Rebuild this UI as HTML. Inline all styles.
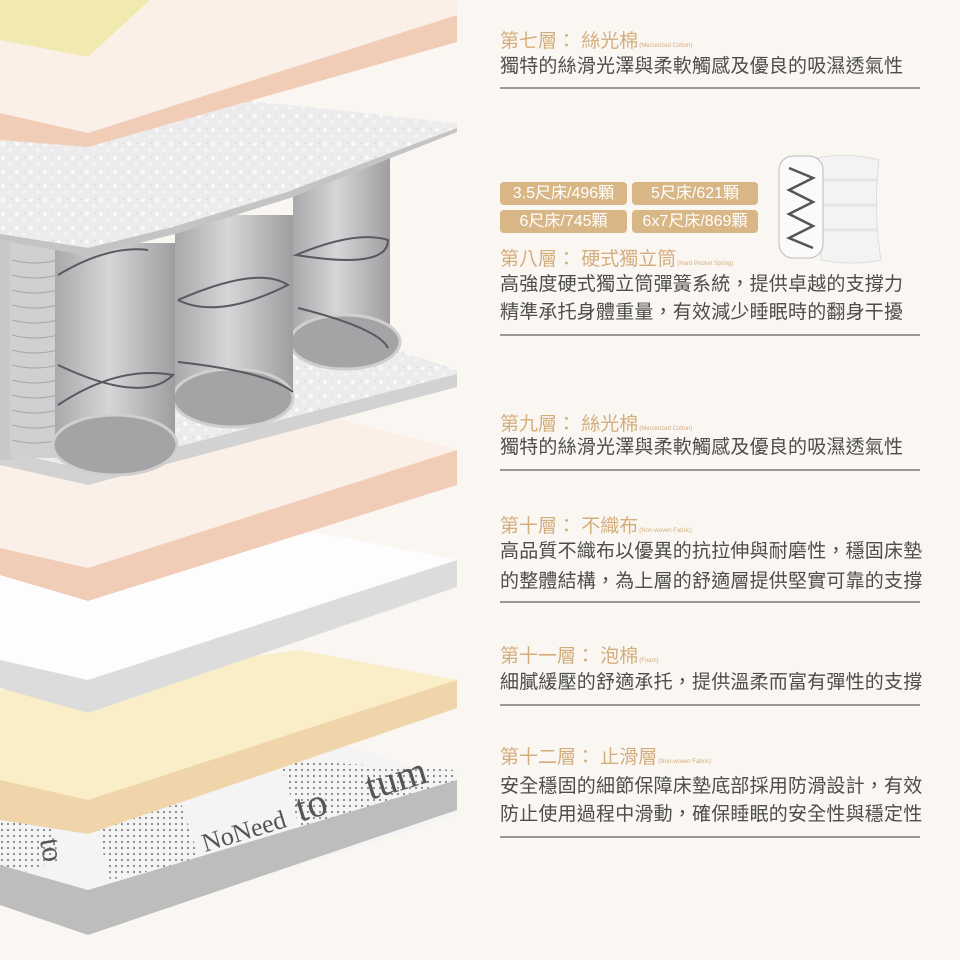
<!DOCTYPE html>
<html><head><meta charset="utf-8">
<style>
html,body{margin:0;padding:0}
body{width:960px;height:960px;background:#faf7f2;position:relative;overflow:hidden;font-family:"Liberation Sans","Noto Sans CJK TC",sans-serif}
.t{position:absolute;left:500px;color:#d4ad7d;font-size:19px;line-height:22px;white-space:nowrap}
.t small{font-size:6px;color:#d4ad7d;margin-left:1px}
.b{position:absolute;left:500px;color:#4d4d4d;font-size:19px;line-height:28px;white-space:nowrap;letter-spacing:0.2px}
.r{position:absolute;left:500px;width:420px;height:2px;background:#9a9794}
.bd{position:absolute;height:23px;background:#d8b685;color:#fff;border-radius:4px;font-size:16px;line-height:23px;text-align:center}
svg{position:absolute;left:0;top:0}
</style></head><body>
<svg width="960" height="960" viewBox="0 0 960 960">
<defs>
<linearGradient id="cyl" x1="0" x2="1" y1="0" y2="0">
<stop offset="0" stop-color="#a9a9ab"/><stop offset="0.45" stop-color="#d6d6d8"/><stop offset="1" stop-color="#9e9ea0"/>
</linearGradient>
<pattern id="dots" width="6" height="6" patternUnits="userSpaceOnUse">
<rect width="6" height="6" fill="#f4f4f4"/><circle cx="2" cy="2" r="1.1" fill="#888"/>
</pattern>
<pattern id="fib" width="14" height="14" patternUnits="userSpaceOnUse">
<rect width="14" height="14" fill="#ececec"/><circle cx="3" cy="4" r="2" fill="#fafafa"/><circle cx="10" cy="10" r="1.5" fill="#f8f8f8"/><circle cx="11" cy="3" r="1" fill="#dcdcdc"/>
</pattern>
</defs>
<!-- bottom fabric layer 12 -->
<polygon points="0,760 200,700 457,780 457,815 88,932 0,905" fill="#f4f4f4"/>
<polygon points="0,800 40,790 60,860 0,880" fill="url(#dots)"/>
<polygon points="95,820 180,800 200,860 110,880" fill="url(#dots)"/>
<polygon points="280,760 457,770 457,790 300,830" fill="url(#dots)"/>
<polygon points="0,865 88,890 457,780 457,810 88,935 0,905" fill="#bdbdbd"/>
<text x="205" y="852" font-family="Liberation Serif,serif" font-size="26" fill="#555" transform="rotate(-17 205 852)">NoNeed</text>
<text x="300" y="822" font-family="Liberation Serif,serif" font-size="40" fill="#555" transform="rotate(-17 300 822)">to</text>
<text x="370" y="800" font-family="Liberation Serif,serif" font-size="40" fill="#555" transform="rotate(-17 370 800)">tum</text>
<text x="40" y="840" font-family="Liberation Serif,serif" font-size="30" fill="#555" transform="rotate(80 40 840)">to</text>
<!-- yellow foam layer 11 -->
<polygon points="0,690 300,650 457,680 457,705 88,830 0,820" fill="#faeec8"/>
<polygon points="0,780 88,800 457,680 457,708 88,834 0,820" fill="#f0d4aa"/>
<!-- white layer 10 -->
<polygon points="0,560 320,533 457,560 457,587 88,713 0,687" fill="#fdfdfd"/>
<polygon points="0,660 88,680 457,560 457,587 88,713 0,688" fill="#dcdcdc"/>
<!-- pink layer 9 -->
<polygon points="0,420 250,395 457,450 457,485 88,601 0,575" fill="#fbf0e8"/>
<polygon points="0,548 88,568 457,450 457,485 88,601 0,575" fill="#f1cdb8"/>
<!-- base fiber -->
<polygon points="0,400 390,352 457,370 457,387 88,485 0,465" fill="#d2d2d2"/>
<polygon points="0,392 390,348 457,370 457,374 88,470 0,450" fill="url(#fib)"/>
<!-- cylinders -->
<rect x="0" y="230" width="14" height="230" fill="#c8c8ca"/>
<rect x="10" y="240" width="48" height="218" fill="#d0d0d2"/>
<g stroke="#a8a8a8" stroke-width="1" fill="none">
<path d="M12,260 q22,6 46,0 M12,275 q22,6 46,0 M12,290 q22,6 46,0 M12,305 q22,6 46,0 M12,320 q22,6 46,0 M12,335 q22,6 46,0 M12,350 q22,6 46,0 M12,365 q22,6 46,0 M12,380 q22,6 46,0 M12,395 q22,6 46,0 M12,410 q22,6 46,0 M12,425 q22,6 46,0 M12,440 q22,6 46,0"/>
</g>
<rect x="293" y="150" width="97" height="190" fill="url(#cyl)"/>
<ellipse cx="345" cy="342" rx="55" ry="27" fill="#a4a3a6" stroke="#cfcfcf" stroke-width="3"/>
<rect x="175" y="215" width="118" height="182" fill="url(#cyl)"/>
<ellipse cx="233" cy="398" rx="60" ry="29" fill="#a4a3a6" stroke="#cfcfcf" stroke-width="3"/>
<rect x="55" y="243" width="120" height="200" fill="url(#cyl)"/>
<ellipse cx="115" cy="445" rx="62" ry="30" fill="#a4a3a6" stroke="#cfcfcf" stroke-width="3"/>
<g stroke="#5a5a5e" stroke-width="2" fill="none">
<path d="M296,255 q60,-25 92,-15 q0,30 -92,15 z"/>
<path d="M178,300 q40,20 110,-15 q-30,-20 -110,15"/>
<path d="M58,405 q60,-40 115,-30 q-30,30 -115,-10"/>
<path d="M58,275 q50,-30 90,-25"/>
<path d="M298,308 q80,20 90,40"/>
<path d="M178,362 q90,10 115,30"/>
</g>
<!-- top fiber layer 8 -->
<polygon points="0,140 215,97 457,123 457,128 287,192 173,227 88,248 0,234" fill="url(#fib)"/>
<polygon points="0,234 88,248 173,227 287,192 457,128 457,132 290,198 175,234 88,256 0,240" fill="#c4c4c4"/>
<!-- pink layer 7 -->
<polygon points="0,0 457,0 457,40 88,135 0,115" fill="#fbf0e8"/>
<polygon points="0,113 88,133 457,15 457,42 88,147 0,140" fill="#f1cdb8"/>
<!-- yellow top -->
<polygon points="0,0 150,0 88,57 0,40" fill="#f0eab0"/>
</svg>

<div class="t" style="top:31px">第七層： 絲光棉<small>(Mercerized Cotton)</small></div>
<div class="b" style="top:53px">獨特的絲滑光澤與柔軟觸感及優良的吸濕透氣性</div>
<div class="r" style="top:87px"></div>

<div class="bd" style="left:500px;top:182px;width:127px">3.5尺床/496顆</div>
<div class="bd" style="left:632px;top:182px;width:126px">5尺床/621顆</div>
<div class="bd" style="left:500px;top:210px;width:127px">6尺床/745顆</div>
<div class="bd" style="left:632px;top:210px;width:126px">6x7尺床/869顆</div>
<svg style="left:775px;top:150px" width="110" height="115" viewBox="0 0 110 115">
<path d="M42,8 q30,-6 62,2 q-6,50 2,100 q-30,6 -60,0 z" fill="#f3f3f3" stroke="#ddd"/>
<path d="M48,30 h55 M48,55 h55 M48,80 h55" stroke="#e4e4e4" stroke-width="3"/>
<rect x="4" y="6" width="44" height="102" rx="14" fill="#fafafa" stroke="#bbb"/>
<path d="M14,18 L38,28 L14,40 L38,52 L14,64 L38,76 L14,88 L38,98" stroke="#555" stroke-width="2.5" fill="none"/>
</svg>
<div class="t" style="top:249px">第八層： 硬式獨立筒<small>(Hard Pocket Spring)</small></div>
<div class="b" style="top:271px">高強度硬式獨立筒彈簧系統，提供卓越的支撐力</div>
<div class="b" style="top:299px">精準承托身體重量，有效減少睡眠時的翻身干擾</div>
<div class="r" style="top:334px"></div>

<div class="t" style="top:414px">第九層： 絲光棉<small>(Mercerized Cotton)</small></div>
<div class="b" style="top:434px">獨特的絲滑光澤與柔軟觸感及優良的吸濕透氣性</div>
<div class="r" style="top:469px"></div>

<div class="t" style="top:516px">第十層： 不織布<small>(Non-woven Fabric)</small></div>
<div class="b" style="top:538px">高品質不織布以優異的抗拉伸與耐磨性，穩固床墊</div>
<div class="b" style="top:568px">的整體結構，為上層的舒適層提供堅實可靠的支撐</div>
<div class="r" style="top:601px"></div>

<div class="t" style="top:646px">第十一層： 泡棉<small>(Foam)</small></div>
<div class="b" style="top:669px">細膩緩壓的舒適承托，提供溫柔而富有彈性的支撐</div>
<div class="r" style="top:704px"></div>

<div class="t" style="top:747px">第十二層： 止滑層<small>(Non-woven Fabric)</small></div>
<div class="b" style="top:773px">安全穩固的細節保障床墊底部採用防滑設計，有效</div>
<div class="b" style="top:801px">防止使用過程中滑動，確保睡眠的安全性與穩定性</div>
<div class="r" style="top:836px"></div>
</body></html>
